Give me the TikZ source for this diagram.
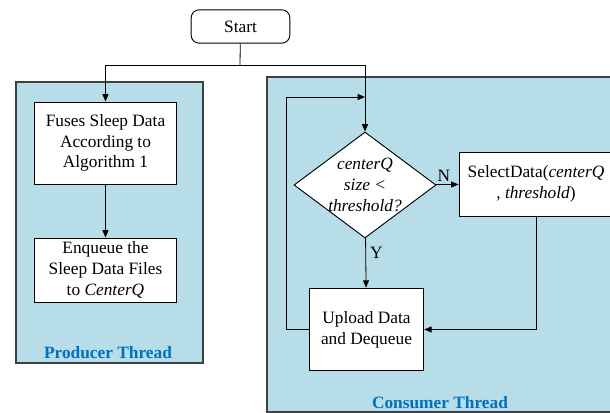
\documentclass[tikz,border=0pt]{standalone}
\usepackage{fontspec}
\setmainfont{Liberation Serif}
\usetikzlibrary{shapes.geometric,arrows.meta}

\definecolor{panelfill}{HTML}{B7DDE8}
\definecolor{panelline}{HTML}{404040}
\definecolor{threadblue}{HTML}{0070C0}

\tikzset{
  box/.style={draw=black, fill=white, line width=0.7pt, align=center, inner sep=1pt},
  panel/.style={draw=panelline, fill=panelfill, line width=0.9pt},
  tag/.style={text=threadblue, font=\fontsize{13}{15.5}\selectfont\bfseries},
  arr/.style={-{Triangle[length=5.5pt,width=4.5pt]}},
}

\begin{document}
\begin{tikzpicture}[x=0.75pt, y=-0.75pt, line width=0.6pt,
    every node/.style={font=\fontsize{13}{15.5}\selectfont}]
  \useasboundingbox (0,0) rectangle (610,413);
  \clip (0,0) rectangle (610,413);

  % thread panels
  \draw[panel] (16,82) rectangle (203,363);
  \draw[panel] (267,77) rectangle (620,412);
  \node[tag] (prodtag) at (108,353) {Producer Thread};
  \node[tag] (constag) at (440,403) {Consumer Thread};

  \node[box, rounded corners=6pt, minimum width=74pt, minimum height=25pt] (start) at (240.5,26.5) {Start};

  % producer
  \node[box, minimum width=107pt, minimum height=61.5pt] (fuse) at (105.5,143) {Fuses Sleep Data\\According to\\Algorithm 1};
  \node[box, minimum width=107pt, minimum height=48pt] (enqueue) at (105.5,270) {Enqueue the\\Sleep Data Files\\to \textit{CenterQ}};

  % consumer
  \node[box, shape=diamond, minimum width=106.5pt, minimum height=79.5pt] (check) at (365,185) {};
  \node[align=center, font=\fontsize{13}{15.5}\selectfont\itshape, inner sep=0pt] (checktext) at (check) {centerQ\\size <\\threshold?};
  \node[box, minimum width=115.5pt, minimum height=48pt] (select) at (536,184) {SelectData(\textit{centerQ}\\, \textit{threshold})};
  \node[box, minimum width=86pt, minimum height=62pt] (upload) at (366.5,329.5) {Upload Data\\and Dequeue};

  \coordinate (split) at (240,65);
  \coordinate (loop) at (365,97);

  \draw (start) -- (split);
  \draw[arr] (split) -| (fuse);
  \draw (split) -| (loop);
  \draw[arr] (loop) -- (check);
  \draw[arr] (fuse) -- (enqueue);
  \draw[arr] (check) -- node[pos=0.35, above, inner sep=2pt] (nlab) {N} (select);
  \draw[arr] (check) -- node[pos=0.3, right, inner sep=3pt] (ylab) {Y} (upload);
  \draw[arr] (select.south) |- (upload.east);
  \draw[arr] (upload.west) -- (286,329.5) |- (loop);
\end{tikzpicture}
\end{document}
